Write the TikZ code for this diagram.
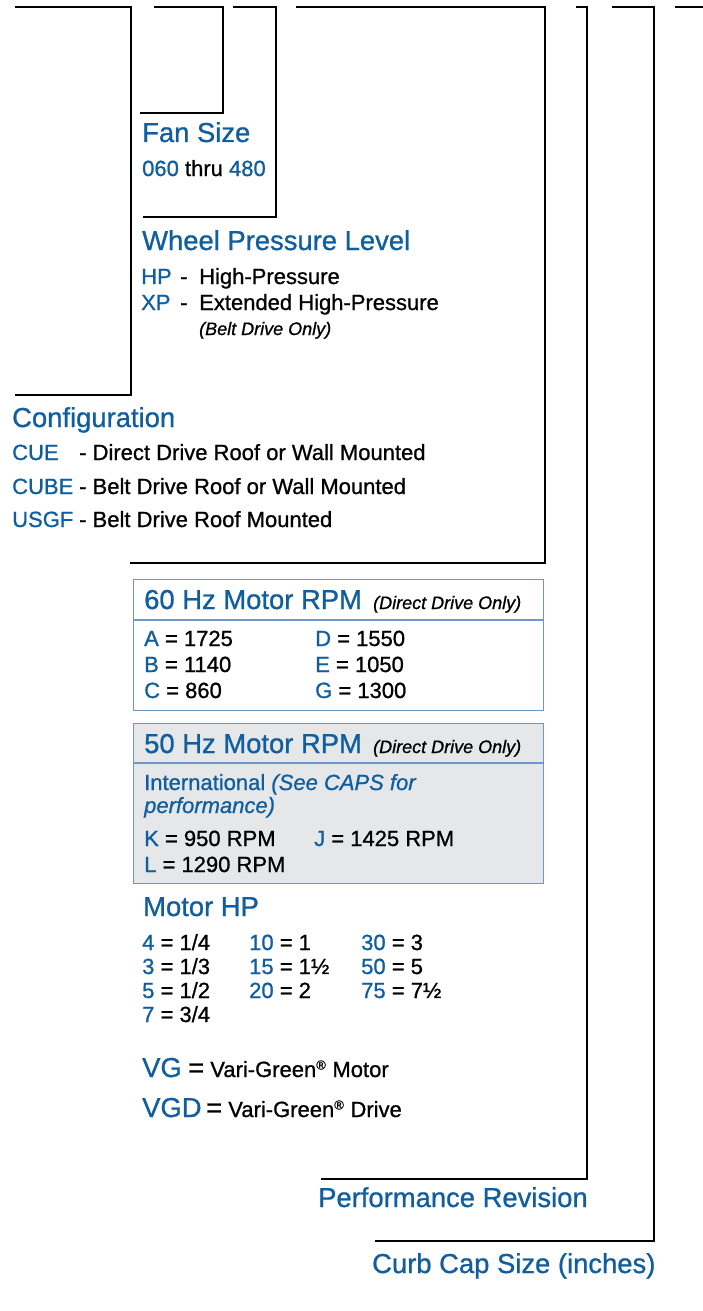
\documentclass[tikz,border=0pt]{standalone}
\usepackage{fontspec}
\setmainfont{Liberation Sans}[FakeBold=0.9]
\usetikzlibrary{positioning}
\definecolor{codeblue}{RGB}{16,94,158}
\definecolor{boxline}{RGB}{112,150,200}
\definecolor{boxgray}{RGB}{230,231,232}
\newcommand{\blu}[1]{\textcolor{codeblue}{#1}}
\newcommand{\fhead}{\fontsize{27.4}{30}\selectfont}
\newcommand{\fbody}{\fontsize{22}{24}\selectfont}
\newcommand{\fnote}{\fontsize{18}{21}\selectfont\itshape}
\newcommand{\reg}{\textsuperscript{\fontsize{13}{13}\selectfont ®}}

\begin{document}
\begin{tikzpicture}[x=1pt, y=-1pt, every node/.style={inner sep=0pt, anchor=base west, font=\fbody},
  bracket/.style={line width=2.4pt}, head/.style={font=\fhead, text=codeblue},
  rpmbox/.style={draw=boxline, line width=1.3pt, anchor=north west, minimum width=410pt}]
\useasboundingbox (0,0) rectangle (703,1311);

% bracket corners
\coordinate (c1a) at (15,7);   \coordinate (c1b) at (131,395); \coordinate (c1c) at (15,395);
\coordinate (c2a) at (154,7);  \coordinate (c2b) at (223,113); \coordinate (c2c) at (140,113);
\coordinate (c3a) at (233,7);  \coordinate (c3b) at (276,217); \coordinate (c3c) at (143,217);
\coordinate (c4a) at (296,7);  \coordinate (c4b) at (545,563); \coordinate (c4c) at (130,563);
\coordinate (c5a) at (576,7);  \coordinate (c5b) at (587,1179); \coordinate (c5c) at (321,1179);
\coordinate (c6a) at (612,7);  \coordinate (c6b) at (654,1241); \coordinate (c6c) at (375,1241);
\coordinate (c7a) at (675,7);  \coordinate (c7b) at (703,7);

\draw[bracket] (c1a) -| (c1b) -- (c1c);
\draw[bracket] (c2a) -| (c2b) -- (c2c);
\draw[bracket] (c3a) -| (c3b) -- (c3c);
\draw[bracket] (c4a) -| (c4b) -- (c4c);
\draw[bracket] (c5a) -| (c5b) -- (c5c);
\draw[bracket] (c6a) -| (c6b) -- (c6c);
\draw[bracket] (c7a) -- (c7b);

% fan size
\node[head] (fan) at (142,142) {Fan Size};
\node (fanrange) at (142,176) {\blu{060} thru \blu{480}};

% wheel
\node[head] (wheel) at (142,250) {Wheel Pressure Level};
\node (hp) at (141,284) {\blu{HP}};
\node (hpdash) at (180,284) {-};
\node (hptext) at (199,284) {High-Pressure};
\node (xp) at (141,310) {\blu{XP}};
\node (xpdash) at (180,310) {-};
\node (xptext) at (199,310) {Extended High-Pressure};
\node[font=\fnote] (xpnote) at (199,335) {(Belt Drive Only)};

% configuration
\node[head] (config) at (12,427) {Configuration};
\node (cue) at (12,460) {\blu{CUE}};
\node (cuetext) at (79,460) {- Direct Drive Roof or Wall Mounted};
\node (cube) at (12,494) {\blu{CUBE}};
\node (cubetext) at (79,494) {- Belt Drive Roof or Wall Mounted};
\node (usgf) at (12,527) {\blu{USGF}};
\node (usgftext) at (79,527) {- Belt Drive Roof Mounted};

% 60 Hz box
\node[rpmbox, fill=white, minimum height=131pt] (box60) at (133,579) {};
\draw[draw=boxline, line width=1.3pt] ([yshift=-41pt]box60.north west) -- ([yshift=-41pt]box60.north east);
\node[head] (rpm60) at (144,609) {60 Hz Motor RPM};
\node[font=\fnote] (rpm60note) at (373,609) {(Direct Drive Only)};
\node (rpmA) at (144,646) {\blu{A} = 1725};
\node (rpmB) at (144,672) {\blu{B} = 1140};
\node (rpmC) at (144,698) {\blu{C} = 860};
\node (rpmD) at (315,646) {\blu{D} = 1550};
\node (rpmE) at (315,672) {\blu{E} = 1050};
\node (rpmG) at (315,698) {\blu{G} = 1300};

% 50 Hz box
\node[rpmbox, fill=boxgray, minimum height=160pt] (box50) at (133,723) {};
\draw[draw=boxline, line width=1.3pt] ([yshift=-40pt]box50.north west) -- ([yshift=-40pt]box50.north east);
\node[head] (rpm50) at (144,753) {50 Hz Motor RPM};
\node[font=\fnote] (rpm50note) at (373,753) {(Direct Drive Only)};
\node[text=codeblue] (intl) at (144,790) {International \textit{(See CAPS for}};
\node[text=codeblue] (intl2) at (144,813) {\textit{performance)}};
\node (rpmK) at (144,846) {\blu{K} = 950 RPM};
\node (rpmJ) at (314,846) {\blu{J} = 1425 RPM};
\node (rpmL) at (144,872) {\blu{L} = 1290 RPM};

% motor hp
\node[head] (motorhp) at (143,916) {Motor HP};
\node (hp4) at (142,950) {\blu{4} = 1/4};
\node (hp3) at (142,974) {\blu{3} = 1/3};
\node (hp5) at (142,998) {\blu{5} = 1/2};
\node (hp7) at (142,1022) {\blu{7} = 3/4};
\node (hp10) at (249,950) {\blu{10} = 1};
\node (hp15) at (249,974) {\blu{15} = 1½};
\node (hp20) at (249,998) {\blu{20} = 2};
\node (hp30) at (361,950) {\blu{30} = 3};
\node (hp50) at (361,974) {\blu{50} = 5};
\node (hp75) at (361,998) {\blu{75} = 7½};

\node[head] (vg) at (142,1077) {VG};
\node (vgtext) at (188,1077) {\fhead=\fbody\ Vari-Green\reg\ Motor};
\node[head] (vgd) at (142,1117) {VGD};
\node (vgdtext) at (206,1117) {\fhead=\fbody\ Vari-Green\reg\ Drive};

% revision and curb cap
\node[head] (perfrev) at (318,1207) {Performance Revision};
\node[head] (curbcap) at (372,1273) {Curb Cap Size (inches)};
\end{tikzpicture}
\end{document}
